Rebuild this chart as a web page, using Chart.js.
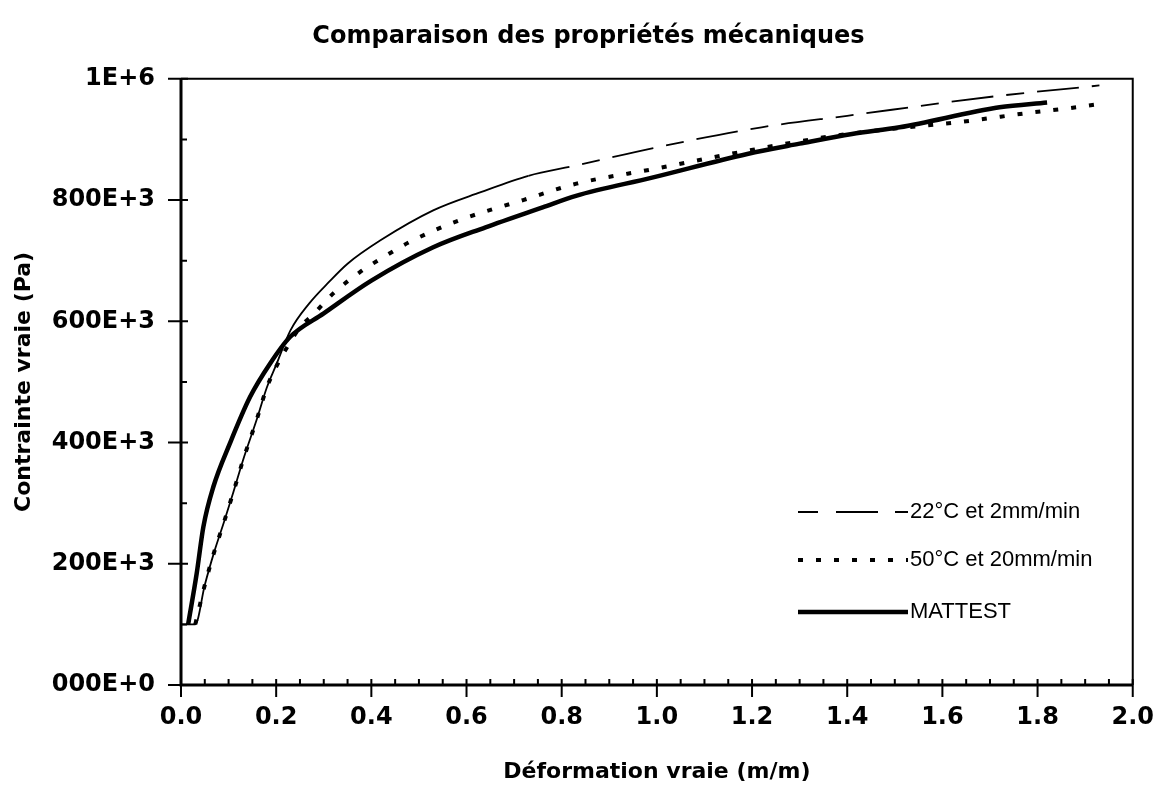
<!DOCTYPE html>
<html>
<head>
<meta charset="utf-8">
<script src="https://cdn.jsdelivr.net/npm/chart.js@4.4.0/dist/chart.umd.min.js"></script>
<style>
  html, body { margin: 0; padding: 0; background: #fff; }
  #wrap { width: 1160px; height: 802px; }
</style>
</head>
<body>
<div id="wrap"><canvas id="chart" width="1160" height="802"></canvas></div>
<script>
// Valeurs (déformation en m/m, contrainte en Pa)

const seriesLabels = ['22°C et 2mm/min', '50°C et 20mm/min', 'MATTEST'];

const strain22 = [0.00, 0.03, 0.05, 0.07, 0.09, 0.11, 0.13, 0.16, 0.18, 0.20, 0.23, 0.27, 0.31, 0.35, 0.42, 0.53, 0.63, 0.73, 0.83, 1.00, 1.22, 1.40, 1.72, 1.93];
const stress22 = [100e3, 100e3, 165e3, 220e3, 268e3, 318e3, 370e3, 440e3, 490e3, 528e3, 585e3, 630e3, 664e3, 695e3, 734e3, 783e3, 813e3, 840e3, 857e3, 887e3, 920e3, 939e3, 972e3, 989e3];

const strain50 = [0.03, 0.05, 0.07, 0.09, 0.11, 0.13, 0.16, 0.18, 0.20, 0.225, 0.25, 0.28, 0.32, 0.376, 0.43, 0.481, 0.586, 0.719, 0.831, 0.992, 1.188, 1.356, 1.50, 1.63, 1.784, 1.861, 1.937];
const stress50 = [100e3, 165e3, 220e3, 268e3, 318e3, 370e3, 440e3, 490e3, 525e3, 560e3, 590e3, 613e3, 646e3, 681e3, 708e3, 731e3, 767e3, 800e3, 827e3, 851e3, 881e3, 904e3, 918e3, 928e3, 944e3, 951e3, 959e3];

const strainMat = [0.015, 0.033, 0.047, 0.068, 0.103, 0.145, 0.187, 0.229, 0.30, 0.40, 0.53, 0.64, 0.76, 0.83, 0.99, 1.19, 1.30, 1.41, 1.51, 1.72, 1.82];
const stressMat = [100e3, 184e3, 261e3, 327e3, 399e3, 475e3, 530e3, 574e3, 613e3, 667e3, 722e3, 755e3, 788e3, 807e3, 837e3, 876e3, 893e3, 909e3, 920e3, 953e3, 961e3];

const xTickLabels = ['0.0', '0.2', '0.4', '0.6', '0.8', '1.0', '1.2', '1.4', '1.6', '1.8', '2.0'];
const yTickLabels = ['000E+0', '200E+3', '400E+3', '600E+3', '800E+3', '1E+6'];

const toPoints = (xs, ys) => xs.map((v, i) => ({ x: v, y: ys[i] }));

const BOLD = { family: 'DejaVu Sans', weight: 'bold' };

// graduations + cadre + légende dessinés à la main
const axisDecor = {
    id: 'axisDecor',
    afterDraw(chart) {
        const { ctx, chartArea: a, scales: { x, y } } = chart;
        ctx.save();
        ctx.strokeStyle = '#000';
        ctx.setLineDash([]);

        // cadre haut / droite
        ctx.lineWidth = 2;
        ctx.beginPath();
        ctx.moveTo(a.left, a.top);
        ctx.lineTo(a.right, a.top);
        ctx.lineTo(a.right, a.bottom);
        ctx.stroke();

        // graduations Y (majeures tous les 200E+3, mineures tous les 100E+3)
        ctx.lineWidth = 2;
        ctx.beginPath();
        for (let i = 0; i <= 10; i++) {
            const py = y.getPixelForValue(i * 100000);
            const major = i % 2 === 0;
            ctx.moveTo(a.left - (major ? 13 : 0), py);
            ctx.lineTo(a.left + (major ? 7 : 6), py);
        }
        // graduations X (majeures tous les 0.2, mineures tous les 0.05)
        for (let i = 0; i <= 40; i++) {
            const px = x.getPixelForValue(i * 0.05);
            const major = i % 4 === 0;
            ctx.moveTo(px, a.bottom + (major ? 12 : 0));
            ctx.lineTo(px, a.bottom - 6);
        }
        ctx.stroke();

        // axes
        ctx.lineWidth = 3;
        ctx.beginPath();
        ctx.moveTo(a.left, a.top);
        ctx.lineTo(a.left, a.bottom);
        ctx.lineTo(a.right, a.bottom);
        ctx.stroke();

        // légende
        const rows = [512, 560, 612];
        const legendDash = [[20, 18, 42, 17], [5, 13], []];
        ctx.font = '22px "Liberation Sans", Arial, sans-serif';
        ctx.fillStyle = '#000';
        ctx.textBaseline = 'middle';
        chart.data.datasets.forEach((ds, i) => {
            ctx.lineWidth = ds.borderWidth;
            ctx.lineCap = 'butt';
            ctx.setLineDash(legendDash[i]);
            ctx.beginPath();
            ctx.moveTo(798, rows[i]);
            ctx.lineTo(908, rows[i]);
            ctx.stroke();
            ctx.fillText(ds.label, 910, rows[i]);
        });
        ctx.restore();
    }
};

new Chart(document.getElementById('chart'), {
    type: 'line',
    data: {
        datasets: [
            {
                label: seriesLabels[0],
                data: toPoints(strain22, stress22),
                borderColor: '#000',
                borderWidth: 1.8,
                borderDash: [],
                segment: {
                    borderDash: c => c.p0.parsed.x >= 0.73 ? [42, 13, 18, 13] : undefined
                }
            },
            {
                label: seriesLabels[1],
                data: toPoints(strain50, stress50),
                borderColor: '#000',
                borderWidth: 4,
                borderDash: [5, 13]
            },
            {
                label: seriesLabels[2],
                data: toPoints(strainMat, stressMat),
                borderColor: '#000',
                borderWidth: 4.5
            }
        ]
    },
    options: {
        responsive: false,
        animation: false,
        parsing: false,
        elements: {
            point: { radius: 0, hoverRadius: 0 },
            line: { cubicInterpolationMode: 'monotone', fill: false }
        },
        // marge gauche pour décaler le titre comme sur l'original
        layout: { padding: { left: 44, right: 27, top: 0, bottom: 0 } },
        plugins: {
            legend: { display: false },
            tooltip: { enabled: false },
            title: {
                display: true,
                text: 'Comparaison des propriétés mécaniques',
                color: '#000',
                font: { ...BOLD, size: 24 },
                padding: { top: 22, bottom: 28 }
            }
        },
        scales: {
            x: {
                type: 'linear',
                min: 0,
                max: 2,
                grid: { display: false, drawTicks: true, tickLength: 12 },
                border: { display: false },
                ticks: {
                    stepSize: 0.2,
                    color: '#000',
                    padding: 6,
                    maxRotation: 0,
                    font: { ...BOLD, size: 24 },
                    callback: v => xTickLabels[Math.round(v / 0.2)]
                },
                title: {
                    display: true,
                    text: 'Déformation vraie (m/m)',
                    color: '#000',
                    font: { ...BOLD, size: 22 },
                    padding: { top: 0, bottom: 17 }
                },
                afterFit: s => { s.height = 117; }
            },
            y: {
                type: 'linear',
                min: 0,
                max: 1000000,
                grid: { display: false, drawTicks: true, tickLength: 13 },
                border: { display: false },
                ticks: {
                    stepSize: 200000,
                    color: '#000',
                    padding: 13,
                    font: { ...BOLD, size: 24 },
                    callback: v => yTickLabels[Math.round(v / 200000)]
                },
                title: {
                    display: true,
                    text: 'Contrainte vraie (Pa)',
                    color: '#000',
                    font: { ...BOLD, size: 22 },
                    padding: { top: -33, bottom: 0 }
                },
                afterFit: s => { s.width = 137; }
            }
        }
    },
    plugins: [axisDecor]
});
</script>
</body>
</html>
